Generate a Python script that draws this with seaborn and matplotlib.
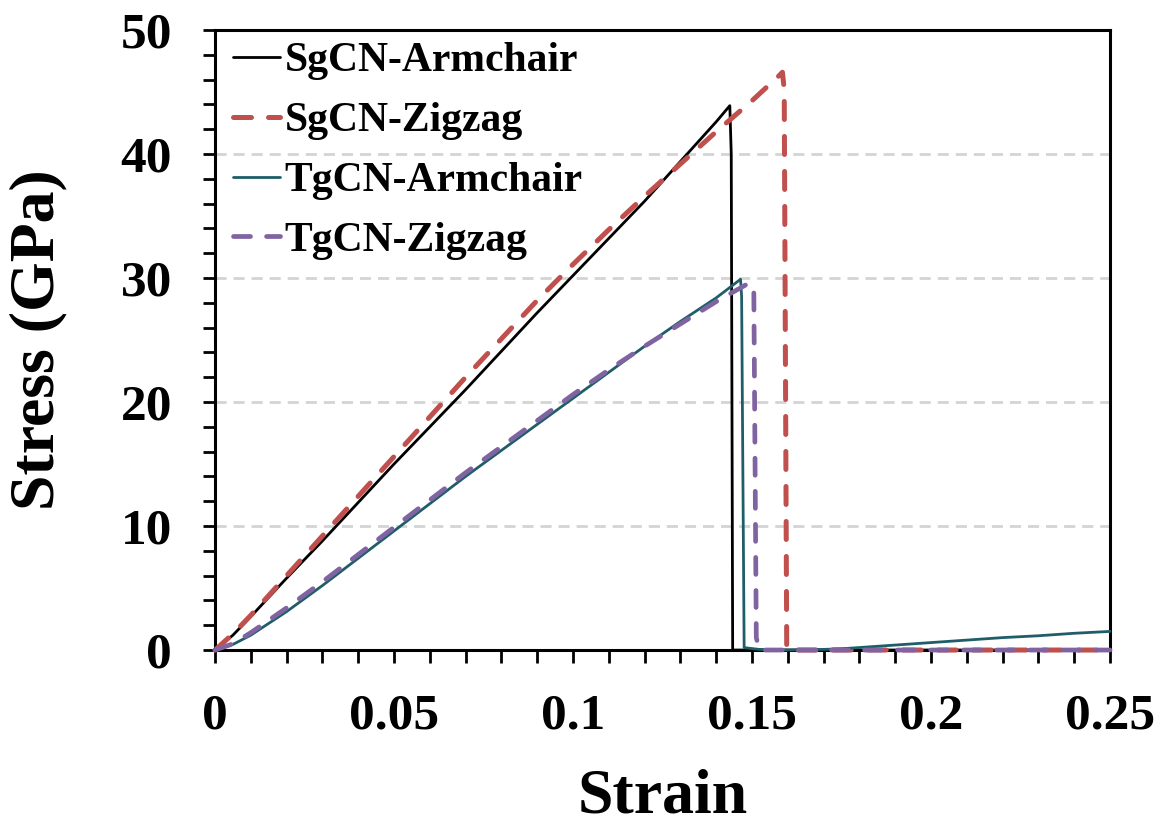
import numpy as np
import pandas as pd
import matplotlib
matplotlib.use("Agg")
import matplotlib.pyplot as plt
import seaborn as sns
from matplotlib.ticker import MultipleLocator, FuncFormatter

# ------------------------------------------------------------
# Data
# ------------------------------------------------------------

sg_arm_strain = [0, 0.005, 0.01, 0.02, 0.03, 0.04, 0.05, 0.06, 0.07, 0.08, 0.09,
                 0.10, 0.11, 0.12, 0.13, 0.14, 0.1438, 0.1442, 0.1446, 0.16, 0.20, 0.25]
sg_arm_stress = [0, 1.2, 2.7, 5.8, 8.8, 11.9, 15.0, 18.0, 21.0, 24.1, 27.2,
                 30.2, 33.2, 36.2, 39.4, 42.6, 43.9, 40.0, 0, 0, 0, 0]

sg_zig_strain = [0, 0.005, 0.01, 0.02, 0.03, 0.04, 0.05, 0.06, 0.07, 0.08, 0.09,
                 0.10, 0.11, 0.12, 0.13, 0.14, 0.15, 0.1575, 0.1585, 0.159, 0.1597,
                 0.17, 0.20, 0.25]
sg_zig_stress = [0, 1.3, 2.8, 6.0, 9.2, 12.4, 15.6, 18.8, 22.0, 25.1, 28.2,
                 31.1, 33.9, 36.6, 39.2, 41.8, 44.3, 46.3, 46.6, 45.2, 0,
                 0, 0, 0]

tg_arm_strain = [0, 0.005, 0.01, 0.02, 0.03, 0.04, 0.05, 0.06, 0.07, 0.08, 0.09,
                 0.10, 0.11, 0.12, 0.13, 0.14, 0.1468, 0.1471, 0.1478, 0.149, 0.152,
                 0.16, 0.17, 0.175, 0.18, 0.19, 0.20, 0.21, 0.22, 0.23, 0.24, 0.25]
tg_arm_stress = [0, 0.45, 1.2, 3.1, 5.2, 7.4, 9.6, 11.8, 14.0, 16.1, 18.2,
                 20.3, 22.4, 24.5, 26.5, 28.4, 29.9, 28.5, 0.2, 0.15, 0.05,
                 0.0, 0.05, 0.1, 0.2, 0.4, 0.6, 0.8, 1.0, 1.15, 1.35, 1.5]

tg_zig_strain = [0, 0.005, 0.01, 0.02, 0.03, 0.04, 0.05, 0.06, 0.07, 0.08, 0.09,
                 0.10, 0.11, 0.12, 0.13, 0.14, 0.1492, 0.1505, 0.1512, 0.152,
                 0.16, 0.20, 0.25]
tg_zig_stress = [0, 0.5, 1.4, 3.4, 5.5, 7.7, 9.9, 12.1, 14.3, 16.4, 18.5,
                 20.6, 22.6, 24.5, 26.3, 28.1, 29.6, 29.2, 1.0, 0,
                 0, 0, 0]

# ------------------------------------------------------------
# Style
# ------------------------------------------------------------

sns.set_style("ticks")
plt.rcParams["font.family"] = ["Liberation Serif", "DejaVu Serif"]
plt.rcParams["font.weight"] = "bold"
plt.rcParams["axes.labelweight"] = "bold"
plt.rcParams["text.color"] = "black"
plt.rcParams["axes.labelcolor"] = "black"
plt.rcParams["xtick.color"] = "black"
plt.rcParams["ytick.color"] = "black"

fig = plt.figure(figsize=(11.7, 8.25), dpi=100)
ax = fig.add_axes([0.1838, 0.2121, 0.9487 - 0.1838, 0.9636 - 0.2121])

dash = (0, (3.6, 3.4))

series = [
    ("SgCN-Armchair", sg_arm_strain, sg_arm_stress, "#000000", 2.0, "-"),
    ("SgCN-Zigzag",   sg_zig_strain, sg_zig_stress, "#C0504D", 3.6, dash),
    ("TgCN-Armchair", tg_arm_strain, tg_arm_stress, "#1F5E69", 2.0, "-"),
    ("TgCN-Zigzag",   tg_zig_strain, tg_zig_stress, "#8064A2", 3.4, dash),
]

for name, xs, ys, color, lw, ls in series:
    sns.lineplot(x=xs, y=ys, ax=ax, color=color, lw=lw, linestyle=ls,
                 dash_capstyle="round", sort=False, estimator=None,
                 label=name, zorder=3, clip_on=False)

ax.set_xlim(0, 0.25)
ax.set_ylim(0, 50)

ax.xaxis.set_major_locator(MultipleLocator(0.05))
ax.xaxis.set_minor_locator(MultipleLocator(0.01))
ax.yaxis.set_major_locator(MultipleLocator(10))
ax.yaxis.set_minor_locator(MultipleLocator(2))
ax.xaxis.set_major_formatter(FuncFormatter(lambda v, p: f"{v:g}"))
ax.yaxis.set_major_formatter(FuncFormatter(lambda v, p: f"{v:g}"))

ax.tick_params(which="both", direction="out", length=9, width=2, color="black")
ax.tick_params(axis="both", which="major", labelsize=37, pad=22)

for sp in ax.spines.values():
    sp.set_linewidth(2.2)
    sp.set_color("black")

ax.yaxis.grid(True, which="major", linestyle=(0, (4, 2.5)), color="#D4D4D4", lw=2)
ax.set_axisbelow(True)

ax.set_xlabel("Strain", fontsize=46, labelpad=21)
ax.set_ylabel("Stress (GPa)", fontsize=46, labelpad=38)

ax.legend(loc="upper left", bbox_to_anchor=(0.015, 0.987), frameon=False,
          fontsize=30, handlelength=1.13, handletextpad=0.12,
          labelspacing=0.52, borderpad=0.1, borderaxespad=0)

fig.savefig("out.png", dpi=100)
